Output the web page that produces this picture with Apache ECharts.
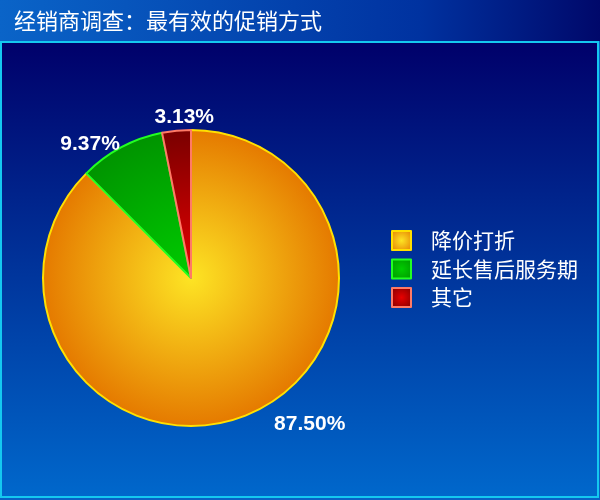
<!DOCTYPE html>
<html>
<head>
<meta charset="utf-8">
<script src="https://cdn.jsdelivr.net/npm/echarts@6/dist/echarts.min.js"></script>
<style>
html,body{margin:0;padding:0;background:#0a60c4;}
#c{width:600px;height:500px;}
</style>
</head>
<body>
<div id="c"></div>
<script>
var categories = ['降价打折', '延长售后服务期', '其它'];
var values = [87.50, 9.37, 3.13];
var titleText = '经销商调查：最有效的促销方式';

var innerColors = ['#fde424', '#00cc00', '#e80000'];
var outerColors = ['#e57a00', '#009400', '#7a0000'];
var borderColors = ['#ffe000', '#22ff22', '#ff7a66'];
var labelTweaks = [
  {length: 9, length2: 18, dist: 5, offset: [0, 1]},
  {length: 5, length2: 0, dist: 0, offset: [1, 1]},
  {length: 15, length2: 0, dist: 0, offset: [39, 1]}
];

var CX = 191, CY = 278, R = 148;

function globalRadial(i) {
  return new echarts.graphic.RadialGradient(CX, CY, R, [
    {offset: 0, color: innerColors[i]},
    {offset: 1, color: outerColors[i]}
  ], true);
}
function localRadial(i) {
  return new echarts.graphic.RadialGradient(0.5, 0.5, 0.7, [
    {offset: 0, color: innerColors[i]},
    {offset: 1, color: outerColors[i]}
  ], false);
}

var seriesData = categories.map(function (name, i) {
  var t = labelTweaks[i];
  return {
    name: name,
    value: values[i],
    itemStyle: {color: globalRadial(i), borderColor: borderColors[i], borderWidth: 2},
    labelLine: {show: false, length: t.length, length2: t.length2},
    label: {distanceToLabelLine: t.dist, offset: t.offset}
  };
});

var legendData = categories.map(function (name, i) {
  return {name: name, itemStyle: {color: localRadial(i), borderColor: borderColors[i], borderWidth: 2}};
});

var chart = echarts.init(document.getElementById('c'));
chart.setOption({
  animation: false,
  backgroundColor: '#0a60c4',
  graphic: {
    elements: [
      {
        type: 'rect', z: 0, silent: true,
        shape: {x: 0, y: 0, width: 600, height: 41},
        style: {fill: new echarts.graphic.LinearGradient(0, 0, 1, 0, [
          {offset: 0, color: '#0a64c8'},
          {offset: 0.7, color: '#0032a0'},
          {offset: 1, color: '#00086a'}
        ])}
      },
      {
        type: 'rect', z: 0, silent: true,
        shape: {x: 1, y: 42, width: 597, height: 455},
        style: {
          fill: new echarts.graphic.LinearGradient(0, 0, 0, 1, [
            {offset: 0, color: '#00006a'},
            {offset: 1, color: '#0068cc'}
          ]),
          stroke: '#14c8f0', lineWidth: 2
        }
      }
    ]
  },
  title: {
    text: titleText,
    left: 9, top: 5,
    textStyle: {color: '#ffffff', fontSize: 22, fontWeight: 'normal', fontFamily: '"Noto Sans CJK SC", sans-serif'}
  },
  legend: {
    orient: 'vertical',
    left: 391, top: 230,
    padding: 0,
    icon: 'rect',
    itemWidth: 19, itemHeight: 19,
    itemGap: 7.5,
    data: legendData,
    textStyle: {color: '#ffffff', fontSize: 21, fontFamily: '"Noto Sans CJK SC", sans-serif', padding: [0, 0, 0, 15]}
  },
  series: [{
    type: 'pie',
    center: [CX, CY],
    radius: R,
    startAngle: 90,
    clockwise: true,
    avoidLabelOverlap: false,
    data: seriesData,
    label: {
      show: true,
      position: 'outside',
      color: '#ffffff',
      fontSize: 21,
      fontWeight: 'bold',
      fontFamily: '"Liberation Sans", Arial, sans-serif',
      formatter: function (p) { return p.value.toFixed(2) + '%'; }
    },
    emphasis: {disabled: true}
  }]
});
</script>
</body>
</html>
